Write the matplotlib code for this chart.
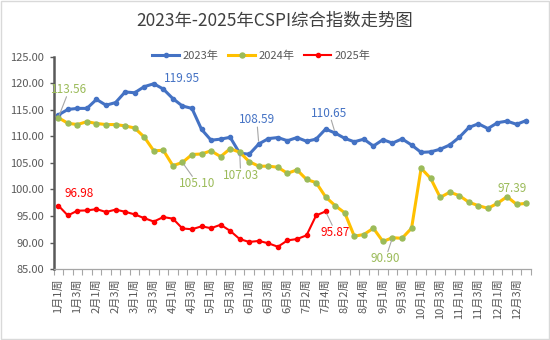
import matplotlib
matplotlib.use('Agg')
import matplotlib.pyplot as plt
from matplotlib.patches import Rectangle

plt.rcParams['font.family'] = ['Noto Sans CJK SC', 'DejaVu Sans']

# week labels (one per data point)
weeks = ['1月1周', '1月2周', '1月3周', '1月4周', '2月1周', '2月2周', '2月3周', '2月4周',
         '3月1周', '3月2周', '3月3周', '3月4周', '4月1周', '4月2周', '4月3周', '4月4周',
         '5月1周', '5月2周', '5月3周', '5月4周', '6月1周', '6月2周', '6月3周', '6月4周',
         '6月5周', '7月1周', '7月2周', '7月3周', '7月4周', '8月1周', '8月2周', '8月3周',
         '8月4周', '8月5周', '9月1周', '9月2周', '9月3周', '9月4周', '10月1周', '10月2周',
         '10月3周', '10月4周', '11月1周', '11月2周', '11月3周', '11月4周', '12月1周', '12月2周',
         '12月3周', '12月4周']

cspi_2023 = [114.06, 115.1, 115.3, 115.3, 117.0, 115.9, 116.4, 118.4, 118.25, 119.4,
             119.95, 118.95, 117.15, 115.75, 115.3, 111.35, 109.3, 109.5, 109.85, 106.85,
             106.65, 108.59, 109.6, 109.8, 109.2, 109.8, 109.1, 109.5, 111.4, 110.65,
             109.65, 109.0, 109.5, 108.2, 109.4, 108.75, 109.55, 108.4, 107.0, 107.1,
             107.6, 108.4, 109.85, 111.7, 112.4, 111.5, 112.6, 112.9, 112.3, 113.0]

cspi_2024 = [113.56, 112.5, 112.25, 112.8, 112.45, 112.25, 112.25, 112.0, 111.6, 109.9,
             107.3, 107.4, 104.5, 105.10, 106.6, 106.7, 107.3, 106.2, 107.7, 107.03,
             105.25, 104.4, 104.4, 104.2, 103.05, 103.7, 101.9, 101.3, 98.6, 96.95,
             95.6, 91.2, 91.5, 92.7, 90.2, 90.90, 90.8, 92.7, 104.0, 102.1,
             98.5, 99.5, 98.85, 97.6, 96.95, 96.45, 97.4, 98.65, 97.2, 97.39]

cspi_2025 = [96.98, 95.1, 96.0, 96.05, 96.3, 95.75, 96.2, 95.8, 95.3, 94.6,
             93.95, 94.8, 94.5, 92.65, 92.5, 93.05, 92.7, 93.35, 92.2, 90.65,
             90.1, 90.3, 89.85, 89.2, 90.4, 90.65, 91.35, 95.1, 95.87]

c23, c24, c24m, c25 = '#4472C4', '#FFC000', '#9BBB59', '#FF0000'
grey = '#595959'

fig = plt.figure(figsize=(5.5, 3.4), dpi=100)
fig.patches.append(Rectangle((0.002, 0.003), 0.996, 0.994, transform=fig.transFigure,
                             fill=False, edgecolor='#D9D9D9', linewidth=1))
ax = fig.add_axes([0.0973, 0.2088, 0.868, 0.6236])

x23 = list(range(len(cspi_2023)))
x24 = list(range(len(cspi_2024)))
x25 = list(range(len(cspi_2025)))
ax.plot(x23, cspi_2023, color=c23, lw=2.2, marker='o', ms=3, mfc=c23, mec=c23, label='2023年')
ax.plot(x24, cspi_2024, color=c24, lw=2.2, marker='o', ms=3.6, mfc=c24m, mec=c24m, label='2024年')
ax.plot(x25, cspi_2025, color=c25, lw=1.5, marker='o', ms=3, mfc=c25, mec=c25, label='2025年')

ax.set_xlim(-0.5, len(weeks) - 0.5)
ax.set_ylim(85, 125)
ax.set_yticks(range(85, 126, 5))
ax.set_yticklabels([f'{v:.2f}' for v in range(85, 126, 5)])

ax.set_xticks(range(0, len(weeks), 2))
ax.set_xticklabels(weeks[::2], rotation=90, ha='center', va='top')
ax.set_xticks([i - 0.5 for i in range(len(weeks) + 1)], minor=True)
ax.tick_params(axis='x', which='major', length=0, pad=7, labelsize=8, labelcolor=grey)
ax.tick_params(axis='x', which='minor', length=4, width=0.8, color='#A6A6A6', direction='out')
ax.tick_params(axis='y', length=3, width=1, color=grey, labelsize=8, labelcolor=grey, pad=4)

for s in ('top', 'right'):
    ax.spines[s].set_visible(False)
ax.spines['left'].set_color('#595959')
ax.spines['left'].set_linewidth(1.8)
ax.spines['bottom'].set_color('#A6A6A6')
ax.spines['bottom'].set_linewidth(0.9)

# data labels: (series, index, colour, offset in pixels, leader line)
labels = [
    (cspi_2024, 0, c24m, (11, 28), True),
    (cspi_2023, 10, c23, (28, 5), False),
    (cspi_2024, 13, c24m, (15, -21), True),
    (cspi_2024, 19, c24m, (1, -23), True),
    (cspi_2023, 21, c23, (-2, 24), True),
    (cspi_2023, 29, c23, (-6, 20), True),
    (cspi_2025, 0, c25, (21, 12), False),
    (cspi_2025, 28, c25, (10, -21), True),
    (cspi_2024, 35, c24m, (-7, -21), True),
    (cspi_2024, 49, c24m, (-14, 15), False),
]
for series, i, col, off, leader in labels:
    props = None
    if leader:
        props = dict(arrowstyle='-', color='#A6A6A6', lw=0.8, shrinkA=0, shrinkB=2)
    ax.annotate(f'{series[i]:.2f}', (i, series[i]), xytext=off, textcoords='offset pixels',
                ha='center', va='center', fontsize=8.5, color=col, arrowprops=props,
                bbox=dict(boxstyle='square,pad=0.05', fc='none', ec='none'))

fig.text(0.5, 0.94, '2023年-2025年CSPI综合指数走势图', ha='center', va='center',
         fontsize=12.5, color='#404040')
fig.legend(loc='center', bbox_to_anchor=(0.475, 0.835), ncol=3, frameon=False,
           fontsize=8, labelcolor=grey, handlelength=2.4, columnspacing=0.9,
           handletextpad=0.3, borderaxespad=0)

fig.savefig('out.png', dpi=100)
